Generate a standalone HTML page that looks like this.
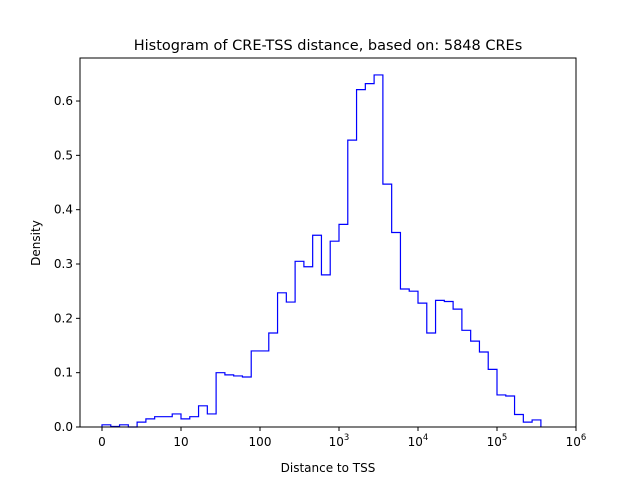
<!DOCTYPE html>
<html><head><meta charset="utf-8"><style>
body{margin:0;background:#fff;font-family:"Liberation Sans","DejaVu Sans",sans-serif}
svg text{font-family:"DejaVu Sans","Liberation Sans",sans-serif}
</style></head><body>
<svg id="chart" width="640" height="480" viewBox="0 0 640 480">
<rect width="640" height="480" fill="#fff"/>
<text x="328" y="50" font-size="14.5" text-anchor="middle">Histogram of CRE-TSS distance, based on: 5848 CREs</text>
<text x="328" y="472" font-size="12" text-anchor="middle">Distance to TSS</text>
<text x="40" y="243" font-size="12" text-anchor="middle" transform="rotate(-90 40 243)">Density</text>
<g id="ticks"></g>
<path id="hist" fill="none" stroke="#0000ff" stroke-width="1.2"/>
<rect x="80" y="58" width="496" height="369" fill="none" stroke="#000" stroke-width="1"/>
</svg>
<script>
// bin heights (density); bins evenly spaced in symlog display units, 9 per decade starting at 0
const densities=[0.004,0.001,0.004,0.0,0.009,0.015,0.019,0.019,0.024,0.015,0.019,0.039,0.024,0.100,0.096,0.094,0.092,0.140,0.140,0.173,0.247,0.230,0.305,0.295,0.353,0.280,0.342,0.373,0.528,0.621,0.632,0.648,0.447,0.358,0.254,0.250,0.228,0.173,0.233,0.231,0.217,0.178,0.158,0.138,0.106,0.059,0.057,0.023,0.009,0.013];
const binsPerDecade=9;
const yTicks=[0.0,0.1,0.2,0.3,0.4,0.5,0.6];
const xTickPos=[0,1,2,3,4,5,6];
const xTickLabels=["0","10","100","10^3","10^4","10^5","10^6"];
const NS="http://www.w3.org/2000/svg";
const x0=102,decPx=79,yBase=427,yScale=543.3;
const xs=u=>x0+u*decPx;
const ys=v=>yBase-v*yScale;
let d="M"+xs(0)+","+ys(0);
densities.forEach((v,i)=>{
  const a=xs(i/binsPerDecade),b=xs((i+1)/binsPerDecade);
  d+=" L"+a+","+ys(v)+" L"+b+","+ys(v);
});
d+=" L"+xs(densities.length/binsPerDecade)+","+ys(0);
document.getElementById('hist').setAttribute('d',d);
const g=document.getElementById('ticks');
yTicks.forEach(t=>{
  const y=ys(t);
  const l=document.createElementNS(NS,'line');
  l.setAttribute('x1',76);l.setAttribute('x2',80);l.setAttribute('y1',y);l.setAttribute('y2',y);l.setAttribute('stroke','#000');
  
  
  g.appendChild(l);
  const tx=document.createElementNS(NS,'text');
  tx.setAttribute('x',73);tx.setAttribute('y',y+4);tx.setAttribute('font-size','12');tx.setAttribute('text-anchor','end');
  tx.textContent=t.toFixed(1);
  
  
  g.appendChild(tx);
});
xTickPos.forEach((u,i)=>{
  const x=xs(u);
  const l=document.createElementNS(NS,'line');
  l.setAttribute('x1',x);l.setAttribute('x2',x);l.setAttribute('y1',427);l.setAttribute('y2',431);l.setAttribute('stroke','#000');
  
  
  g.appendChild(l);
  const tx=document.createElementNS(NS,'text');
  tx.setAttribute('x',x);tx.setAttribute('y',446);tx.setAttribute('font-size','12');tx.setAttribute('text-anchor','middle');
  
  
  const lab=xTickLabels[i];
  if(lab.includes('^')){
    const [b,e]=lab.split('^');
    const t1=document.createElementNS(NS,'tspan');t1.textContent=b;tx.appendChild(t1);
    const t2=document.createElementNS(NS,'tspan');t2.textContent=e;t2.setAttribute('font-size','8.5');t2.setAttribute('dy','-6');tx.appendChild(t2);
  } else tx.textContent=lab;
  g.appendChild(tx);
});
</script>
</body></html>
